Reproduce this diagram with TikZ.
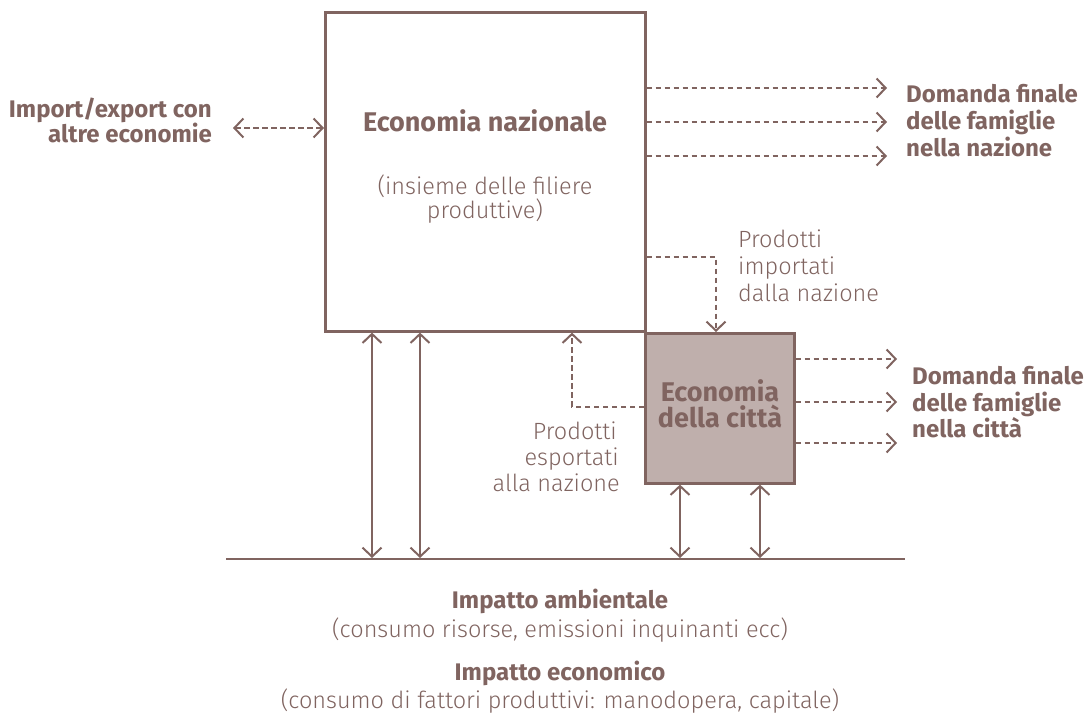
\documentclass[tikz,border=0pt]{standalone}
\usepackage{fontspec}
\setmainfont{Fira Sans}
\newfontfamily\lightfont{Fira Sans Light}
\usetikzlibrary{arrows.meta}
\definecolor{mauve}{RGB}{128,100,96}
\definecolor{cityfill}{RGB}{191,175,172}
\begin{document}
\begin{tikzpicture}[x=1pt,y=-1pt,
  box/.style={draw=mauve, line width=2.6pt, inner sep=0pt, rectangle},
  solidline/.style={draw=mauve, line width=2.4pt},
  dline/.style={draw=mauve, line width=2pt, dash pattern=on 5.5pt off 3.5pt},
  tipped/.style={arrows={-Straight Barb[length=9pt,width=19pt,line width=2pt]}},
  dtipped/.style={arrows={Straight Barb[length=9pt,width=19pt,line width=2pt]-Straight Barb[length=9pt,width=19pt,line width=2pt]}},
  boldlbl/.style={text=mauve, font=\fontsize{24}{28}\selectfont\bfseries, inner sep=0pt},
  titlelbl/.style={text=mauve, font=\fontsize{27}{30}\selectfont\bfseries, inner sep=0pt},
  reglbl/.style={text=mauve, font=\lightfont\fontsize{23.5}{27}\selectfont, inner sep=0pt}
]
\useasboundingbox (0,0) rectangle (1088,719);

% boxes
\node[box, minimum width=320pt, minimum height=319pt, anchor=north west] (nat) at (324,11) {};
\node[box, fill=cityfill, minimum width=149pt, minimum height=150pt, anchor=north west] (city) at (644,332) {};

% texts in boxes
\node[titlelbl, anchor=base] (natt) at (485,132) {Economia nazionale};
\node[reglbl, anchor=base] (natsub1) at (485,195) {(insieme delle filiere};
\node[reglbl, anchor=base] (natsub2) at (485,219) {produttive)};
\node[titlelbl, anchor=base] (cityt1) at (720,402) {Economia};
\node[titlelbl, anchor=base] (cityt2) at (720,428) {della città};

% import/export
\node[boldlbl, anchor=base east] (imp1) at (212,118) {Import/export con};
\node[boldlbl, anchor=base east] (imp2) at (212,143) {altre economie};
\coordinate (impe) at (233,128);
\draw[dline, dtipped] (impe) -- (nat.west |- impe);

% domanda finale nazione
\node[boldlbl, anchor=base west] (dfn1) at (906,103) {Domanda finale};
\node[boldlbl, anchor=base west] (dfn2) at (906,130) {delle famiglie};
\node[boldlbl, anchor=base west] (dfn3) at (906,157) {nella nazione};
\coordinate (n1) at (887,88);
\coordinate (n2) at (887,122);
\coordinate (n3) at (887,156);
\draw[dline, tipped] (nat.east |- n1) -- (n1);
\draw[dline, tipped] (nat.east |- n2) -- (n2);
\draw[dline, tipped] (nat.east |- n3) -- (n3);

% domanda finale citta
\node[boldlbl, anchor=base west] (dfc1) at (912,385) {Domanda finale};
\node[boldlbl, anchor=base west] (dfc2) at (912,412) {delle famiglie};
\node[boldlbl, anchor=base west] (dfc3) at (912,438) {nella città};
\coordinate (c1) at (897,359);
\coordinate (c2) at (897,402);
\coordinate (c3) at (897,443);
\draw[dline, tipped] (city.east |- c1) -- (c1);
\draw[dline, tipped] (city.east |- c2) -- (c2);
\draw[dline, tipped] (city.east |- c3) -- (c3);

% prodotti importati
\node[reglbl, anchor=base west] (pimp1) at (738,248) {Prodotti};
\node[reglbl, anchor=base west] (pimp2) at (738,275) {importati};
\node[reglbl, anchor=base west] (pimp3) at (738,302) {dalla nazione};
\coordinate (ie) at (716,257);
\draw[dline, tipped] (nat.east |- ie) -- (ie) -- (ie |- city.north);

% prodotti esportati
\node[reglbl, anchor=base east] (pexp1) at (617,440) {Prodotti};
\node[reglbl, anchor=base east] (pexp2) at (619,466) {esportati};
\node[reglbl, anchor=base east] (pexp3) at (620,492) {alla nazione};
\coordinate (ee) at (572,407);
\draw[dline, tipped] (city.west |- ee) -- (ee) -- (ee |- nat.south);

% ground line
\coordinate (gl) at (226,559);
\coordinate (gr) at (905,559);
\draw[solidline] (gl) -- (gr);

\coordinate (g1) at (372,558);
\coordinate (g2) at (420,558);
\coordinate (g3) at (680,558);
\coordinate (g4) at (760,558);
\draw[solidline, dtipped] (nat.south -| g1) -- (g1);
\draw[solidline, dtipped] (nat.south -| g2) -- (g2);
\draw[solidline, dtipped] (city.south -| g3) -- (g3);
\draw[solidline, dtipped] (city.south -| g4) -- (g4);

% impacts
\node[boldlbl, anchor=base] (ia) at (560,608) {Impatto ambientale};
\node[reglbl, anchor=base] (iad) at (560,637) {(consumo risorse, emissioni inquinanti ecc)};
\node[boldlbl, anchor=base] (ie2) at (560,680) {Impatto economico};
\node[reglbl, anchor=base] (ied) at (560,708) {(consumo di fattori produttivi: manodopera, capitale)};
\end{tikzpicture}
\end{document}
